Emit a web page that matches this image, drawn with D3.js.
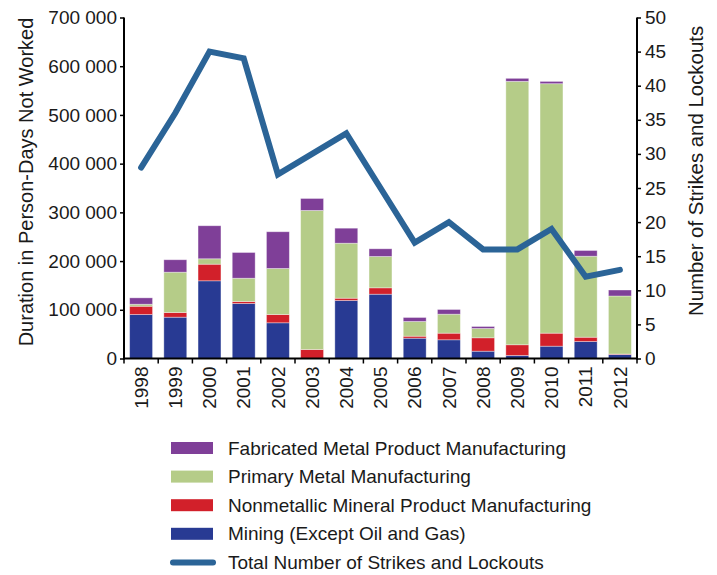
<!DOCTYPE html>
<html>
<head>
<meta charset="utf-8">
<script src="https://cdn.jsdelivr.net/npm/d3@7"></script>
<style>
  html, body { margin: 0; padding: 0; background: #fff; }
  svg { display: block; font-family: "Liberation Sans", Arial, sans-serif; }
</style>
</head>
<body>
<svg id="chart" width="717" height="575"></svg>
<script>
const years = ["1998","1999","2000","2001","2002","2003","2004","2005","2006","2007","2008","2009","2010","2011","2012"];
const mining      = [90300, 84800, 159500, 112900, 73300, 0, 119100, 132000, 41700, 38400, 15000, 6200, 25300, 34900, 8200];
const nonmetallic = [17000, 9600, 34100, 4100, 17000, 18500, 4700, 13100, 4100, 13600, 27500, 22000, 26700, 8800, 1000];
const primary     = [4100, 82800, 11100, 47800, 94500, 285400, 112900, 64300, 30200, 39000, 19100, 540700, 512100, 166300, 119100];
const fabricated  = [13100, 25500, 67800, 52800, 75400, 24600, 30800, 15800, 8200, 9600, 4100, 6200, 4700, 11700, 12300];
const strikes     = [28, 36, 45, 44, 27, 30, 33, 25, 17, 20, 16, 16, 19, 12, 13];

const seriesNames = ["Mining (Except Oil and Gas)", "Nonmetallic Mineral Product Manufacturing", "Primary Metal Manufacturing", "Fabricated Metal Product Manufacturing"];
const seriesColors = ["#283a93", "#d2202a", "#b5cc88", "#7f3f98"];
const lineName = "Total Number of Strikes and Lockouts";
const lineColor = "#2b6497";
const leftTicks = [0, 100000, 200000, 300000, 400000, 500000, 600000, 700000];
const rightTicks = [0, 5, 10, 15, 20, 25, 30, 35, 40, 45, 50];

const svg = d3.select("#chart");
const X0 = 124, X1 = 637, Y0 = 358.5, Y1 = 17.5;

const x = d3.scaleBand().domain(years).range([X0, X1]).paddingInner(0.33).paddingOuter(0.165);
const xb = d3.scaleBand().domain(years).range([X0, X1]);
const yL = d3.scaleLinear().domain([0, 700000]).range([Y0, Y1]);
const yR = d3.scaleLinear().domain([0, 50]).range([Y0, Y1]);

const rows = years.map((yr, i) => ({ year: yr, s0: mining[i], s1: nonmetallic[i], s2: primary[i], s3: fabricated[i] }));
const stack = d3.stack().keys(["s0","s1","s2","s3"]);
const stacked = stack(rows);

const gBars = svg.append("g");
stacked.forEach((layer, li) => {
  gBars.selectAll(null).data(layer).enter().append("rect")
    .attr("x", d => x(d.data.year))
    .attr("width", x.bandwidth())
    .attr("y", d => yL(d[1]))
    .attr("height", d => Math.max(0, yL(d[0]) - yL(d[1])))
    .attr("fill", seriesColors[li])
    .attr("stroke", "#ffffff")
    .attr("stroke-opacity", 0.45)
    .attr("stroke-width", 0.8);
});

// line
const line = d3.line().x((d, i) => xb(years[i]) + xb.bandwidth() / 2).y(d => yR(d));
svg.append("path").datum(strikes).attr("d", line)
  .attr("fill", "none").attr("stroke", lineColor).attr("stroke-width", 6)
  .attr("stroke-linejoin", "miter").attr("stroke-linecap", "round");

// axes
const fmt = d => d === 0 ? "0" : d3.format(",")(d).replace(/,/g, " ");
const axL = svg.append("g").attr("transform", `translate(${X0},0)`)
  .call(d3.axisLeft(yL).tickValues(leftTicks).tickFormat(fmt).tickSizeOuter(0).tickSizeInner(4).tickPadding(3));
const axR = svg.append("g").attr("transform", `translate(${X1},0)`)
  .call(d3.axisRight(yR).tickValues(rightTicks).tickSizeOuter(0).tickSizeInner(4).tickPadding(4));
const axB = svg.append("g").attr("transform", `translate(0,${Y0})`)
  .call(d3.axisBottom(xb).tickSize(0).tickSizeOuter(0).tickPadding(6));

[axL, axR, axB].forEach(a => {
  a.selectAll("path.domain").attr("stroke", "#000").attr("stroke-width", 2);
  a.selectAll(".tick line").attr("stroke", "#000").attr("stroke-width", 1.5);
  a.selectAll("text").attr("fill", "#1a1a1a").style("font-size", "19px").style("font-family", '"Liberation Sans", Arial, sans-serif');
});
axL.select("path.domain").attr("d", `M0,${Y1}V${Y0 + 1}`);
axR.select("path.domain").attr("d", `M0,${Y1}V${Y0 + 1}`);
axB.select("path.domain").attr("d", `M${X0 - 1},0H${X1 + 1}`);

// band boundary ticks on x axis
axB.selectAll("line.bt").data(d3.range(years.length + 1)).enter().append("line")
  .attr("class", "bt")
  .attr("x1", i => X0 + i * xb.step()).attr("x2", i => X0 + i * xb.step())
  .attr("y1", 0).attr("y2", 5).attr("stroke", "#000").attr("stroke-width", 1.5);

axB.selectAll(".tick text")
  .attr("transform", "rotate(-90)")
  .attr("text-anchor", "end")
  .attr("dy", "0.35em")
  .attr("x", -8).attr("y", 0);

// axis titles
svg.append("text").attr("transform", "translate(33,182) rotate(-90)")
  .attr("text-anchor", "middle").style("font-size", "20px").attr("fill", "#1a1a1a")
  .text("Duration in Person-Days Not Worked");
svg.append("text").attr("transform", "translate(703,171) rotate(-90)")
  .attr("text-anchor", "middle").style("font-size", "20.4px").attr("fill", "#1a1a1a")
  .text("Number of Strikes and Lockouts");

// legend
const legendItems = [
  { name: seriesNames[3], color: seriesColors[3], type: "rect" },
  { name: seriesNames[2], color: seriesColors[2], type: "rect" },
  { name: seriesNames[1], color: seriesColors[1], type: "rect" },
  { name: seriesNames[0], color: seriesColors[0], type: "rect" },
  { name: lineName, color: lineColor, type: "line" }
];
const lg = svg.append("g");
legendItems.forEach((it, i) => {
  const cy = 448 + i * 28.6;
  if (it.type === "rect") {
    lg.append("rect").attr("x", 171).attr("y", cy - 6).attr("width", 42).attr("height", 12).attr("fill", it.color);
  } else {
    lg.append("line").attr("x1", 173).attr("x2", 213).attr("y1", cy).attr("y2", cy)
      .attr("stroke", it.color).attr("stroke-width", 6).attr("stroke-linecap", "round");
  }
  lg.append("text").attr("x", 228).attr("y", cy).attr("dy", "0.35em")
    .style("font-size", "19px").attr("fill", "#1a1a1a").text(it.name);
});
</script>
</body>
</html>
